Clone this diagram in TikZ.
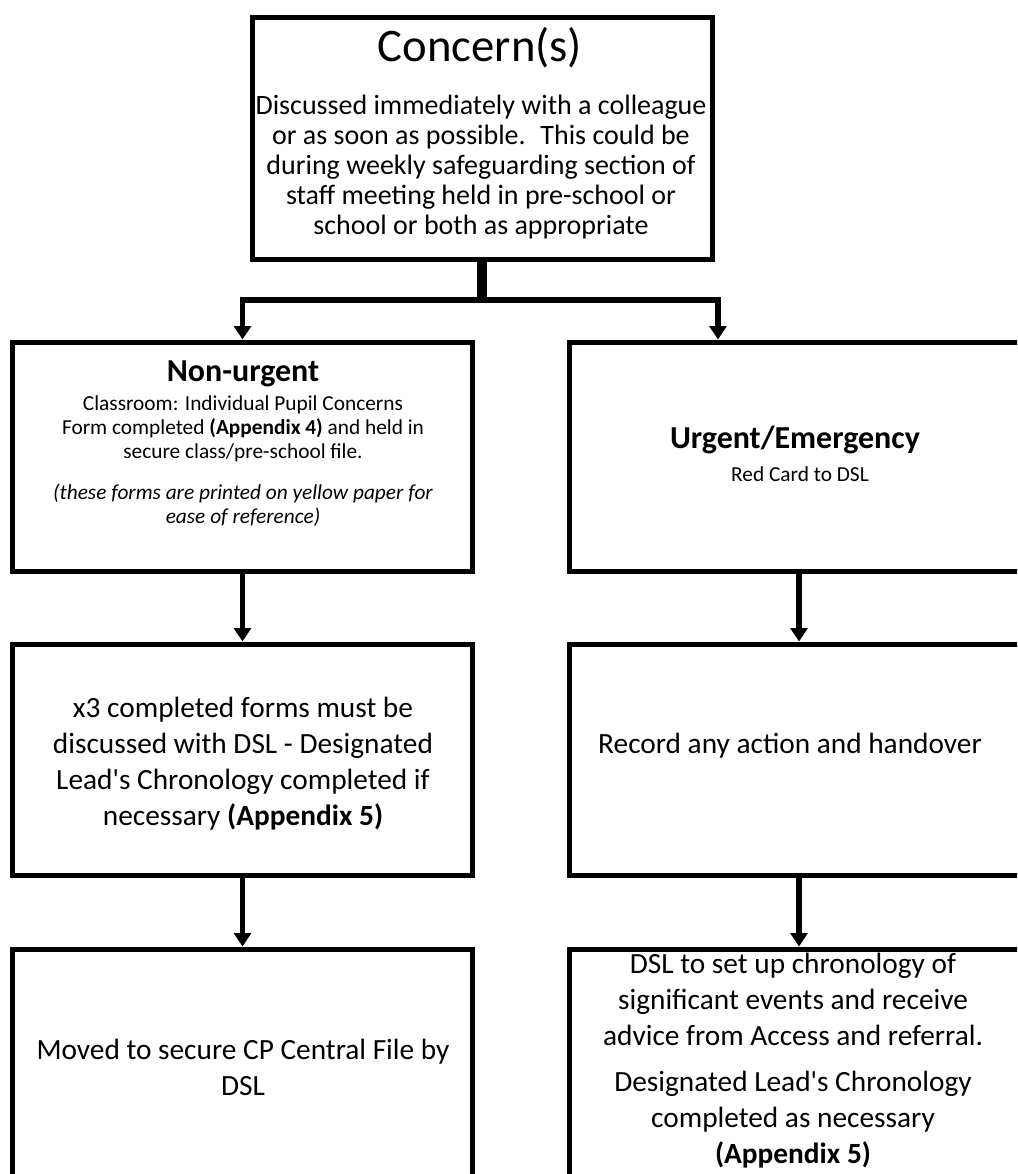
\documentclass[tikz,border=0pt]{standalone}
\usepackage{fontspec}
\setmainfont{Carlito}[Ligatures=TeXOff]
\usetikzlibrary{arrows.meta,calc}
\begin{document}
\begin{tikzpicture}[x=0.75pt,y=-0.75pt,
  box/.style={draw=black, line width=3.75pt, rectangle, inner sep=0pt},
  colbox/.style={box, minimum width=345pt},
  arr/.style={line width=4.1pt, -{Triangle[length=10pt,width=12.5pt]}},
  stem/.style={line width=7.5pt},
  txt/.style={align=center, inner sep=0pt},
  huge/.style={txt, font=\fontsize{35}{42}\selectfont},
  head/.style={txt, font=\bfseries\fontsize{24}{29}\selectfont},
  body/.style={txt, font=\fontsize{21}{22.5}\selectfont},
  small/.style={txt, font=\fontsize{16}{18}\selectfont},
  big/.style={txt, font=\fontsize{22}{27}\selectfont}]
\useasboundingbox (0,0) rectangle (1017,1174);
\clip (0,0) rectangle (1017,1174);

% boxes
\node[box, minimum width=345pt, minimum height=181.5pt] (top) at (482,138) {};
\node[colbox, minimum height=171.75pt] (l1) at (242.5,456.5) {};
\node[colbox, minimum height=171.75pt] (r1) at (799,456.5) {};
\node[colbox, minimum height=173.25pt] (l2) at (242.5,759.5) {};
\node[colbox, minimum height=173.25pt] (r2) at (799,759.5) {};
\node[colbox, minimum height=172.5pt] (l3) at (242.5,1064) {};
\node[colbox, minimum height=172.5pt] (r3) at (799,1064) {};

% connectors
\coordinate (j) at (482,300);
\draw[stem] (top.south) -- (j);
\draw[arr] (j) -| (l1.north);
\draw[arr] (j) -| ($(r1.north)+(-81,0)$);
\draw[arr] (l1.south) -- (l2.north);
\draw[arr] (l2.south) -- (l3.north);
\draw[arr] (r1.south) -- (r2.north);
\draw[arr] (r2.south) -- (r3.north);

% texts
\node[huge] (t0) at (480,48) {Concern(s)};
\node[body] (t0b) at (481,167) {Discussed immediately with a colleague\\or as soon as possible.~ This could be\\during weekly safeguarding section of\\staff meeting held in pre-school or\\school or both as appropriate};

\node[head] (t1h) at (243,374) {Non-urgent};
\node[small] (t1a) at (243,429) {Classroom: Individual Pupil Concerns\\Form completed \textbf{(Appendix 4)} and held in\\secure class/pre-school file.};
\node[small, font=\itshape\fontsize{16}{18}\selectfont] (t1b) at (243,505) {(these forms are printed on yellow paper for\\ease of reference)};

\node[head] (t2h) at (795,440) {Urgent/Emergency};
\node[small] (t2a) at (800,474) {Red Card to DSL};

\node[big] (t3) at (243,764) {x3 completed forms must be\\discussed with DSL - Designated\\Lead's Chronology completed if\\necessary \textbf{(Appendix 5)}};
\node[big] (t4) at (790,746) {Record any action and handover};

\node[big] (t5) at (243,1067) {Moved to secure CP Central File by\\DSL};
\node[big] (t6a) at (793,999) {DSL to set up chronology of\\significant events and receive\\advice from Access and referral.};
\node[big] (t6b) at (793,1120) {Designated Lead's Chronology\\completed as necessary\\\textbf{(Appendix 5)}};
\end{tikzpicture}
\end{document}
